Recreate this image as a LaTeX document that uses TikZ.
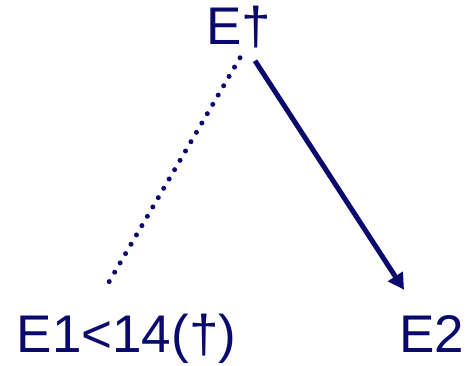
\documentclass[tikz,border=0pt]{standalone}
\usepackage{fontspec}
\setmainfont{Liberation Sans}
\usetikzlibrary{arrows.meta}
\definecolor{navy}{HTML}{0A0A6E}

\begin{document}
\begin{tikzpicture}[x=1pt, y=1pt, >={Triangle[length=16pt, width=17pt]},
  t/.style={inner sep=0pt, anchor=base, text=navy, font=\fontsize{53}{60}\selectfont},
  ln/.style={draw=navy, line width=5pt}]
\useasboundingbox (0,0) rectangle (468,366);
\node[t] (top) at (239,321) {E†};
\node[t] (e1) at (126.5,13) {E1<14(†)};
\node[t] (e2) at (432,13) {E2};
\draw[ln, line cap=round, dash pattern=on 0pt off 10.8pt] ([xshift=1pt, yshift=-9pt]top.south) -- ([xshift=-19.5pt, yshift=29pt]e1.north);
\draw[ln, ->] ([xshift=16pt, yshift=-12pt]top.south) -- ([xshift=-28pt, yshift=26pt]e2.north);
\end{tikzpicture}
\end{document}
